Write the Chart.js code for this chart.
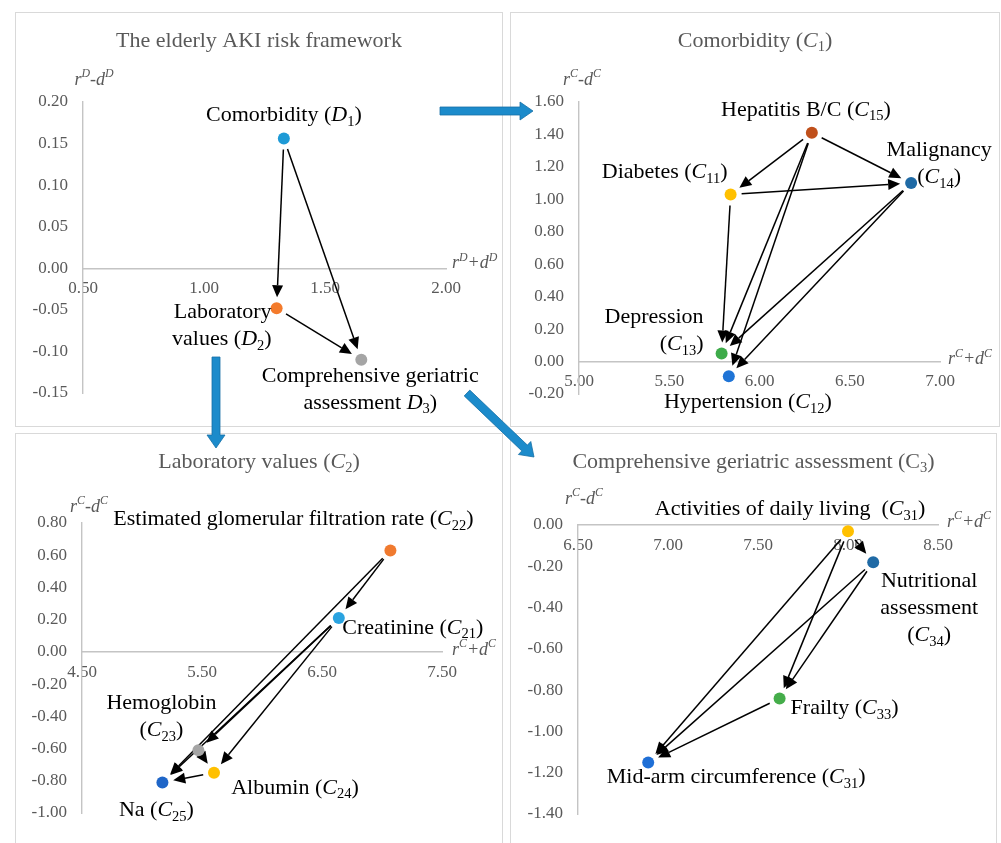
<!DOCTYPE html>
<html>
<head>
<meta charset="utf-8">
<script src="https://cdn.jsdelivr.net/npm/chart.js@4.4.1/dist/chart.umd.min.js"></script>
<style>
  body { margin: 0; background: #fff; width: 1001px; height: 843px; overflow: hidden; position: relative; }
  .panel { position: absolute; border: 1px solid #d9d9d9; box-sizing: border-box; }
  canvas { position: absolute; }
  svg { position: absolute; left: 0; top: 0; pointer-events: none; }
</style>
</head>
<body>
<div class="panel" style="left:15px;top:12px;width:488px;height:415px"></div>
<div class="panel" style="left:510px;top:12px;width:490px;height:415px"></div>
<div class="panel" style="left:15px;top:433px;width:488px;height:420px"></div>
<div class="panel" style="left:510px;top:433px;width:487px;height:420px"></div>

<canvas id="framework" width="488" height="415" style="left:15px;top:12px"></canvas>
<canvas id="comorbidity" width="490" height="415" style="left:510px;top:12px"></canvas>
<canvas id="laboratory" width="488" height="420" style="left:15px;top:433px"></canvas>
<canvas id="geriatric" width="487" height="420" style="left:510px;top:433px"></canvas>

<svg id="flow" width="1001" height="843"></svg>

<script>
// ---- data ----
// The elderly AKI risk framework (D)
const frameworkNames = ['Comorbidity (*D*_{1})', 'Laboratory\nvalues (*D*_{2})', 'Comprehensive geriatric\nassessment *D*_{3})']
const frameworkX = [1.33, 1.30, 1.65]
const frameworkY = [0.156, -0.048, -0.11]
const frameworkLinks = [[0, 1], [0, 2], [1, 2]]
const frameworkXTicks = [0.5, 1.0, 1.5, 2.0]
const frameworkYTicks = [-0.15, -0.10, -0.05, 0.00, 0.05, 0.10, 0.15, 0.20]

// Comorbidity (C1)
const comorbidityNames = ['Diabetes (*C*_{11})', 'Hypertension (*C*_{12})', 'Depression\n(*C*_{13})', 'Malignancy\n(*C*_{14})', 'Hepatitis B/C (*C*_{15})']
const comorbidityX = [5.84, 5.83, 5.79, 6.84, 6.29]
const comorbidityY = [1.03, -0.09, 0.05, 1.10, 1.41]
const comorbidityLinks = [[4, 0], [4, 3], [0, 3], [0, 2], [4, 2], [4, 1], [3, 2], [3, 1]]
const comorbidityXTicks = [5.0, 5.5, 6.0, 6.5, 7.0]
const comorbidityYTicks = [-0.2, 0.0, 0.2, 0.4, 0.6, 0.8, 1.0, 1.2, 1.4, 1.6]

// Laboratory values (C2)
const laboratoryNames = ['Creatinine (*C*_{21})', 'Estimated glomerular filtration rate (*C*_{22})', 'Hemoglobin\n(*C*_{23})', 'Albumin (*C*_{24})', 'Na (*C*_{25})']
const laboratoryX = [6.64, 7.07, 5.47, 5.60, 5.17]
const laboratoryY = [0.21, 0.63, -0.61, -0.75, -0.81]
const laboratoryLinks = [[1, 0], [1, 4], [0, 2], [0, 3], [0, 4], [2, 3], [3, 4]]
const laboratoryXTicks = [4.5, 5.5, 6.5, 7.5]
const laboratoryYTicks = [-1.0, -0.8, -0.6, -0.4, -0.2, 0.0, 0.2, 0.4, 0.6, 0.8]

// Comprehensive geriatric assessment (C3)
const geriatricNames = ['Activities of daily living  (*C*_{31})', 'Mid-arm circumference (*C*_{31})', 'Frailty (*C*_{33})', 'Nutritional\nassessment\n(*C*_{34})']
const geriatricX = [8.00, 6.89, 7.62, 8.14]
const geriatricY = [-0.03, -1.15, -0.84, -0.18]
const geriatricLinks = [[0, 3], [0, 2], [0, 1], [3, 2], [3, 1], [2, 1]]
const geriatricXTicks = [6.5, 7.0, 7.5, 8.0, 8.5]
const geriatricYTicks = [-1.4, -1.2, -1.0, -0.8, -0.6, -0.4, -0.2, 0.0]

// ---- styles ----
const serif = '"Liberation Serif", "Times New Roman", serif'
const greyText = '#595959'
const axisColor = '#c4c4c4'

function parseRich(str) {
  const segs = []
  let italic = false, buf = '', i = 0
  const flush = () => { if (buf) segs.push({ t: buf, italic, mode: 'n' }); buf = '' }
  while (i < str.length) {
    const c = str[i]
    if (c === '*') { flush(); italic = !italic; i++ }
    else if ((c === '_' || c === '^') && str[i + 1] === '{') {
      flush()
      const end = str.indexOf('}', i)
      segs.push({ t: str.slice(i + 2, end), italic, mode: c })
      i = end + 1
    } else { buf += c; i++ }
  }
  flush()
  return segs
}

function drawRich(ctx, str, x, y, size, align, color, italicAll) {
  const segs = parseRich(str)
  const fontOf = s => ((s.italic || italicAll) ? 'italic ' : '') + (s.mode === 'n' ? size : size * 0.66).toFixed(1) + 'px ' + serif
  let w = 0
  segs.forEach(s => { ctx.font = fontOf(s); s.w = ctx.measureText(s.t).width; w += s.w })
  let cx = align === 'center' ? x - w / 2 : align === 'right' ? x - w : x
  ctx.textAlign = 'left'
  ctx.textBaseline = 'middle'
  ctx.fillStyle = color
  segs.forEach(s => {
    ctx.font = fontOf(s)
    const oy = s.mode === '_' ? size * 0.3 : s.mode === '^' ? -size * 0.32 : 0
    ctx.fillText(s.t, cx, y + oy)
    cx += s.w
  })
}

function arrow(ctx, x1, y1, x2, y2) {
  const a = Math.atan2(y2 - y1, x2 - x1)
  const c = Math.cos(a), s = Math.sin(a)
  const gap = 11, hl = 12, hw = 5.5
  const sx = x1 + c * gap, sy = y1 + s * gap
  const ex = x2 - c * gap, ey = y2 - s * gap
  const bx = ex - c * hl, by = ey - s * hl
  ctx.beginPath()
  ctx.moveTo(sx, sy)
  ctx.lineTo(bx, by)
  ctx.stroke()
  ctx.beginPath()
  ctx.moveTo(ex, ey)
  ctx.lineTo(bx - s * hw, by + c * hw)
  ctx.lineTo(bx + s * hw, by - c * hw)
  ctx.closePath()
  ctx.fill()
}

function decoPlugin(d) {
  return {
    id: 'deco',
    beforeDatasetsDraw(chart) {
      const { ctx, scales: { x, y } } = chart
      ctx.save()
      ctx.strokeStyle = '#000'
      ctx.fillStyle = '#000'
      ctx.lineWidth = 1.5
      d.links.forEach(([from, to]) => {
        arrow(ctx, x.getPixelForValue(d.x[from]), y.getPixelForValue(d.y[from]),
          x.getPixelForValue(d.x[to]), y.getPixelForValue(d.y[to]))
      })
      ctx.restore()
    },
    afterDraw(chart) {
      const { ctx, chartArea, scales: { x, y } } = chart
      ctx.save()
      drawRich(ctx, d.title, chart.width / 2, 29, 22, 'center', greyText)
      drawRich(ctx, d.yTitle, chartArea.left + d.yTitlePos[0], chartArea.top + d.yTitlePos[1], 18, 'center', greyText, true)
      drawRich(ctx, d.xTitle, chartArea.right + d.xTitlePos[0], y.getPixelForValue(0) + d.xTitlePos[1], 18, 'left', greyText, true)
      d.names.forEach((name, i) => {
        const [dx, dy, align] = d.place[i]
        const px = x.getPixelForValue(d.x[i]), py = y.getPixelForValue(d.y[i])
        name.split('\n').forEach((line, k) => {
          drawRich(ctx, line, px + dx, py + dy + k * 27, 22, align, '#000')
        })
      })
      ctx.restore()
    }
  }
}

function makeMap(id, d) {
  const tickFont = { family: serif, size: 17 }
  const fmt = v => Number(v).toFixed(2)
  return new Chart(document.getElementById(id), {
    type: 'scatter',
    data: {
      datasets: [{
        data: d.x.map((v, i) => ({ x: v, y: d.y[i] })),
        pointBackgroundColor: d.colors,
        pointBorderWidth: 0,
        pointRadius: 6,
        pointHoverRadius: 6,
        clip: false
      }]
    },
    options: {
      responsive: false,
      animation: false,
      events: [],
      layout: { padding: d.pad },
      plugins: { legend: { display: false }, tooltip: { enabled: false } },
      scales: {
        x: {
          type: 'linear',
          position: { y: 0 },
          min: d.xTicks[0],
          max: d.xTicks[d.xTicks.length - 1],
          grid: { display: false, drawTicks: false },
          border: { color: axisColor, width: 1.4 },
          ticks: { padding: 10, font: tickFont, color: greyText, callback: fmt, autoSkip: false, maxRotation: 0 },
          afterBuildTicks: s => { s.ticks = d.xTicks.map(v => ({ value: v })) }
        },
        y: {
          type: 'linear',
          position: 'left',
          min: d.yTicks[0],
          max: d.yTicks[d.yTicks.length - 1],
          grid: { display: false, drawTicks: false },
          border: { color: axisColor, width: 1.4 },
          ticks: { padding: 15, font: tickFont, color: greyText, callback: fmt, autoSkip: false },
          afterBuildTicks: s => { s.ticks = d.yTicks.map(v => ({ value: v })) },
          afterFit: s => { s.width = d.yWidth }
        }
      }
    },
    plugins: [decoPlugin(d)]
  })
}

makeMap('framework', {
  title: 'The elderly AKI risk framework',
  names: frameworkNames, x: frameworkX, y: frameworkY, links: frameworkLinks,
  xTicks: frameworkXTicks, yTicks: frameworkYTicks,
  colors: ['#1e9ad6', '#f47b2c', '#a5a5a5'],
  place: [[0, -23, 'center'], [-5, 4, 'right'], [9, 16, 'center']],
  yTitle: '*r^{D}-d^{D}*', xTitle: '*r^{D}+d^{D}*',
  yTitlePos: [11, -22], xTitlePos: [6, -5],
  pad: { left: 0, top: 90, right: 57, bottom: 34 }, yWidth: 68
})

makeMap('comorbidity', {
  title: 'Comorbidity (*C*_{1})',
  names: comorbidityNames, x: comorbidityX, y: comorbidityY, links: comorbidityLinks,
  xTicks: comorbidityXTicks, yTicks: comorbidityYTicks,
  colors: ['#ffc000', '#1f74d6', '#3eab4a', '#1f6aa5', '#c0501b'],
  place: [[-66, -22, 'center'], [19, 26, 'center'], [-18, -36, 'right'], [28, -33, 'center'], [-6, -23, 'center']],
  yTitle: '*r^{C}-d^{C}*', xTitle: '*r^{C}+d^{C}*',
  yTitlePos: [3, -22], xTitlePos: [8, -2],
  pad: { left: 0, top: 90, right: 60, bottom: 33 }, yWidth: 69
})

makeMap('laboratory', {
  title: 'Laboratory values (*C*_{2})',
  names: laboratoryNames, x: laboratoryX, y: laboratoryY, links: laboratoryLinks,
  xTicks: laboratoryXTicks, yTicks: laboratoryYTicks,
  colors: ['#2aa3e0', '#f07a2f', '#a5a5a5', '#ffc000', '#1f66c8'],
  place: [[74, 10, 'center'], [-97, -31, 'center'], [-37, -47, 'center'], [81, 15, 'center'], [-6, 28, 'center']],
  yTitle: '*r^{C}-d^{C}*', xTitle: '*r^{C}+d^{C}*',
  yTitlePos: [7, -16], xTitlePos: [10, -2],
  pad: { left: 0, top: 90, right: 61, bottom: 40 }, yWidth: 67
})

makeMap('geriatric', {
  title: 'Comprehensive geriatric assessment (C_{3})',
  names: geriatricNames, x: geriatricX, y: geriatricY, links: geriatricLinks,
  xTicks: geriatricXTicks, yTicks: geriatricYTicks,
  colors: ['#ffc000', '#1f6fd6', '#45ad4a', '#1f6aa5'],
  place: [[-58, -22, 'center'], [88, 15, 'center'], [65, 10, 'center'], [56, 19, 'center']],
  yTitle: '*r^{C}-d^{C}*', xTitle: '*r^{C}+d^{C}*',
  yTitlePos: [6, -26], xTitlePos: [9, -3],
  pad: { left: 0, top: 92, right: 59, bottom: 39 }, yWidth: 68
})

// blue flow arrows between the panels
function blockArrow(x1, y1, x2, y2) {
  const a = Math.atan2(y2 - y1, x2 - x1)
  const c = Math.cos(a), s = Math.sin(a)
  const sw = 4, hw = 9, hl = 13
  const len = Math.hypot(x2 - x1, y2 - y1) - hl
  const pt = (along, side) => (x1 + c * along - s * side).toFixed(1) + ',' + (y1 + s * along + c * side).toFixed(1)
  return [pt(0, -sw), pt(len, -sw), pt(len, -hw), pt(len + hl, 0), pt(len, hw), pt(len, sw), pt(0, sw)].join(' ')
}
const flow = document.getElementById('flow')
;[[440, 111, 533, 111], [216, 357, 216, 448], [467, 393, 534, 457]].forEach(p => {
  const poly = document.createElementNS('http://www.w3.org/2000/svg', 'polygon')
  poly.setAttribute('points', blockArrow(...p))
  poly.setAttribute('fill', '#1c8bcb')
  poly.setAttribute('stroke', '#1670a6')
  poly.setAttribute('stroke-width', '0.8')
  flow.appendChild(poly)
})
</script>
</body>
</html>
